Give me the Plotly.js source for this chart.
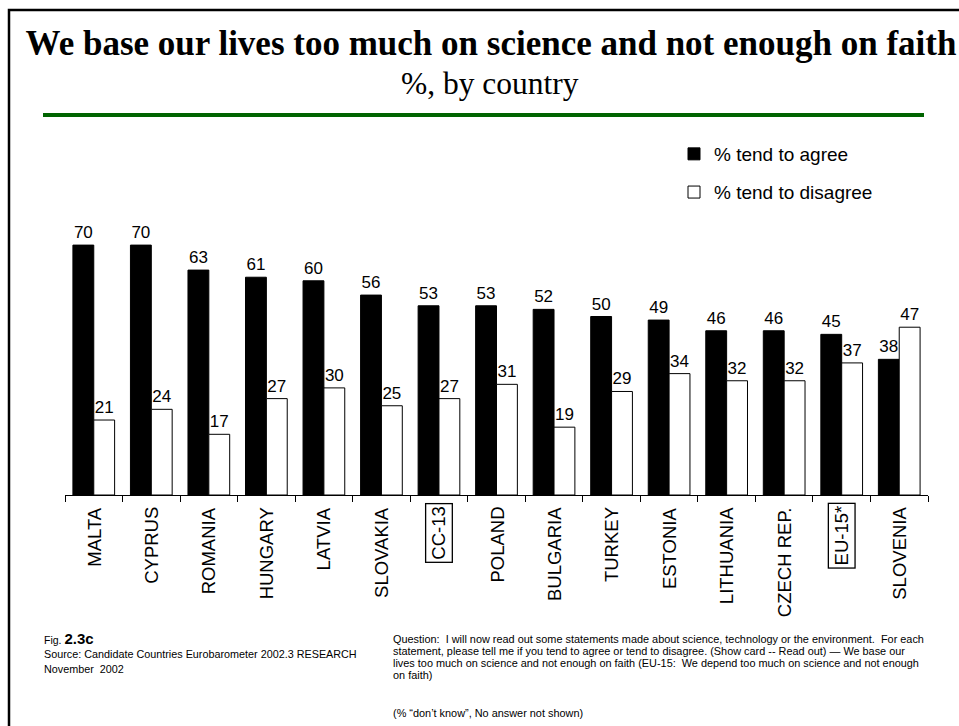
<!DOCTYPE html>
<html>
<head>
<meta charset="utf-8">
<script src="https://cdn.plot.ly/plotly-3.0.1.min.js"></script>
<style>
  html, body { margin: 0; padding: 0; background: #ffffff; }
  #chart { width: 959px; height: 726px; }
</style>
</head>
<body>
<div id="chart"></div>
<script>
// Survey results: "We base our lives too much on science and not enough on faith"
const categories = ["MALTA", "CYPRUS", "ROMANIA", "HUNGARY", "LATVIA", "SLOVAKIA", "CC-13",
  "POLAND", "BULGARIA", "TURKEY", "ESTONIA", "LITHUANIA", "CZECH REP.", "EU-15*", "SLOVENIA"];
const agree    = [70, 70, 63, 61, 60, 56, 53, 53, 52, 50, 49, 46, 46, 45, 38];
const disagree = [21, 24, 17, 27, 30, 25, 27, 31, 19, 29, 34, 32, 32, 37, 47];
const boxedLabels = ["CC-13", "EU-15*"];   // aggregate rows, drawn framed

const seriesNames = ["% tend to agree", "% tend to disagree"];
const titleText = "We base our lives too much on science and not enough on faith";
const subtitleText = "%, by country";
const figLabel = "2.3c";
const sourceLines = [
  "Source: Candidate Countries Eurobarometer 2002.3 RESEARCH",
  "November\u00a0 2002"
];
const questionLines = [
  "Question:\u00a0 I will now read out some statements made about science, technology or the environment.\u00a0 For each",
  "statement, please tell me if you tend to agree or tend to disagree. (Show card -- Read out) \u2014 We base our",
  "lives too much on science and not enough on faith (EU-15:\u00a0 We depend too much on science and not enough",
  "on faith)"
];
const noteLine = "(% \u201cdon\u2019t know\u201d, No answer not shown)";

// ---- page geometry ----
const W = 959, H = 726;
const M = { l: 65, r: 31, t: 138, b: 231 };
const plotW = W - M.l - M.r, plotH = H - M.t - M.b;
const px = v => (v - M.l) / plotW;          // page x -> paper x
const py = v => (H - M.b - v) / plotH;      // page y -> paper y

const SANS = "Liberation Sans, Arial, sans-serif";
const SERIF = "Liberation Serif, Times New Roman, serif";

const traces = [
  {
    type: "bar", name: seriesNames[0], x: categories, y: agree,
    marker: { color: "#000000", line: { color: "#000000", width: 1 } },
    text: agree.map(String), textposition: "outside", cliponaxis: false,
    textfont: { family: SANS, size: 17, color: "#000000" },
    legendgroup: "a", hoverinfo: "x+y"
  },
  {
    type: "bar", name: seriesNames[1], x: categories, y: disagree,
    marker: { color: "#ffffff", line: { color: "#000000", width: 1 } },
    text: disagree.map(String), textposition: "outside", cliponaxis: false,
    textfont: { family: SANS, size: 17, color: "#000000" },
    legendgroup: "b", hoverinfo: "x+y"
  }
];

const annotations = [];

// subtitle
annotations.push({
  xref: "paper", yref: "paper", x: px(490), y: py(83), xanchor: "center", yanchor: "middle",
  text: subtitleText, showarrow: false, font: { family: SERIF, size: 31.5, color: "#000000" }
});

// category labels, rotated, hanging under the axis
categories.forEach(c => {
  const boxed = boxedLabels.includes(c);
  annotations.push({
    xref: "x", yref: "paper", x: c, y: py(boxed ? 503 : 505),
    xanchor: "center", yanchor: "top", textangle: -90, showarrow: false,
    text: c, font: { family: SANS, size: 18.5, color: "#000000" },
    bordercolor: boxed ? "#000000" : "rgba(0,0,0,0)", borderwidth: boxed ? 1.3 : 1,
    borderpad: boxed ? 2 : 1
  });
});

// figure number and source
annotations.push({
  xref: "paper", yref: "paper", x: px(42), y: py(638), xanchor: "left", yanchor: "middle",
  showarrow: false, font: { family: SANS, size: 10.5, color: "#000000" },
  text: "Fig.\u00a0<b><span style=\"font-size:15px\">" + figLabel + "</span></b>"
});
sourceLines.forEach((t, i) => {
  annotations.push({
    xref: "paper", yref: "paper", x: px(42), y: py(654 + i * 14.5), xanchor: "left", yanchor: "middle",
    showarrow: false, text: t, font: { family: SANS, size: 10.8, color: "#000000" }
  });
});

// question wording
questionLines.forEach((t, i) => {
  annotations.push({
    xref: "paper", yref: "paper", x: px(391), y: py(639 + i * 12), xanchor: "left", yanchor: "middle",
    showarrow: false, text: t, font: { family: SANS, size: 10.9, color: "#000000" }
  });
});
annotations.push({
  xref: "paper", yref: "paper", x: px(391), y: py(713), xanchor: "left", yanchor: "middle",
  showarrow: false, text: noteLine, font: { family: SANS, size: 10.9, color: "#000000" }
});

const shapes = [
  // outer frame (runs off the right and bottom edges)
  { type: "rect", xref: "paper", yref: "paper", x0: px(9), x1: px(1000), y0: py(10), y1: py(760),
    line: { color: "#000000", width: 2.5 }, fillcolor: "rgba(0,0,0,0)", layer: "above" },
  // green rule under the heading
  { type: "line", xref: "paper", yref: "paper", x0: px(43), x1: px(924), y0: py(115), y1: py(115),
    line: { color: "#006400", width: 4 } }
];

const layout = {
  width: W, height: H,
  margin: M,
  paper_bgcolor: "#ffffff", plot_bgcolor: "#ffffff",
  title: {
    text: "<b>" + titleText + "</b>",
    font: { family: SERIF, size: 35, color: "#000000" },
    xref: "container", yref: "container", x: 491 / W, y: 1 - 43 / H,
    xanchor: "center", yanchor: "middle"
  },
  barmode: "group", bargap: 0.275, bargroupgap: 0,
  xaxis: {
    type: "category", tickson: "boundaries", ticks: "outside", ticklen: 6, tickwidth: 1,
    tickcolor: "#000000", showline: true, linecolor: "#000000", linewidth: 1,
    showticklabels: false, showgrid: false, zeroline: false, fixedrange: true
  },
  yaxis: { range: [0, 100], visible: false, fixedrange: true },
  showlegend: true,
  legend: {
    x: px(674), y: py(135), xanchor: "left", yanchor: "top",
    bgcolor: "rgba(0,0,0,0)", borderwidth: 0,
    traceorder: "grouped", tracegroupgap: 10.5,
    font: { family: SANS, size: 19, color: "#000000" }
  },
  annotations: annotations,
  shapes: shapes
};

Plotly.newPlot("chart", traces, layout, { displayModeBar: false, staticPlot: true });
</script>
</body>
</html>
